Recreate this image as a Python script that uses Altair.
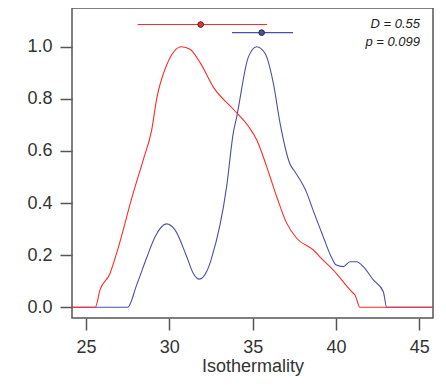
import altair as alt
import pandas as pd

# Density curves (scaled to max 1)
red_x = [24.16, 25.56, 25.84, 26.44, 26.8, 27.84, 28.44, 28.94, 29.24, 29.84, 30.74, 31.24,
         31.84, 32.64, 33.84, 34.74, 35.24, 35.84, 36.44, 37.04, 37.64, 38.64, 39.24, 39.84,
         40.94, 41.14, 41.44, 45.82]
red_y = [0.0, 0.0, 0.067, 0.13, 0.2, 0.44, 0.567, 0.68, 0.80, 0.93, 1.0, 0.99,
         0.94, 0.845, 0.76, 0.695, 0.643, 0.54, 0.425, 0.323, 0.265, 0.22, 0.18, 0.143,
         0.06, 0.047, 0.0, 0.0]

blue_x = [24.16, 27.5, 28.04, 28.64, 29.14, 29.84, 30.34, 31.04, 31.44, 31.8, 32.24, 32.54,
          33.44, 33.84, 34.04, 34.74, 35.24, 35.74, 36.24, 36.64, 37.24, 37.54, 38.24, 38.64,
          39.24, 39.74, 39.99, 40.44, 40.84, 41.24, 41.64, 42.24, 42.84, 43.04, 45.82]
blue_y = [0.0, 0.0, 0.086, 0.19, 0.27, 0.32, 0.297, 0.195, 0.13, 0.108, 0.137, 0.19,
          0.464, 0.67, 0.73, 0.96, 1.0, 0.975, 0.86, 0.708, 0.55, 0.52, 0.44, 0.37,
          0.27, 0.19, 0.163, 0.156, 0.175, 0.175, 0.156, 0.105, 0.06, 0.0, 0.0]

# Mean / range segments at top
seg_series = ["red", "blue"]
seg_lo = [28.1, 33.76]
seg_hi = [35.86, 37.42]
seg_mid = [31.88, 35.54]
seg_y = [1.085, 1.054]

# Annotation
ann_text = ["D = 0.55", "p = 0.099"]
ann_x = [45.04, 45.04]
ann_y = [1.087, 1.017]

RED = "#ff2b2b"
BLUE = "#4a50a4"

xs = alt.Scale(domain=[24.16, 45.82], nice=False, zero=False)
ys = alt.Scale(domain=[-0.041, 1.1485], nice=False, zero=False)

red_df = pd.DataFrame({"x": red_x, "y": red_y})
blue_df = pd.DataFrame({"x": blue_x, "y": blue_y})
seg_df = pd.DataFrame({"s": seg_series, "lo": seg_lo, "hi": seg_hi, "mid": seg_mid, "y": seg_y})
ann_df = pd.DataFrame({"t": ann_text, "x": ann_x, "y": ann_y})

xaxis = alt.Axis(values=[25, 30, 35, 40, 45], title="Isothermality", format="d")
yaxis = alt.Axis(values=[0, 0.2, 0.4, 0.6, 0.8, 1.0], title=None, format=".1f")

blue_line = alt.Chart(blue_df).mark_line(color=BLUE, strokeWidth=1.1, interpolate="monotone").encode(
    x=alt.X("x:Q", scale=xs, axis=xaxis),
    y=alt.Y("y:Q", scale=ys, axis=yaxis),
)
red_line = alt.Chart(red_df).mark_line(color=RED, strokeWidth=1.1, interpolate="monotone").encode(
    x=alt.X("x:Q", scale=xs),
    y=alt.Y("y:Q", scale=ys),
)

cscale = alt.Scale(domain=["red", "blue"], range=[RED, BLUE])
segs = alt.Chart(seg_df).mark_rule(strokeWidth=1.1).encode(
    x=alt.X("lo:Q", scale=xs),
    x2="hi:Q",
    y=alt.Y("y:Q", scale=ys),
    color=alt.Color("s:N", scale=cscale, legend=None),
)
pts = alt.Chart(seg_df).mark_circle(size=32, opacity=1, stroke="#2a2a3a", strokeWidth=1).encode(
    x=alt.X("mid:Q", scale=xs),
    y=alt.Y("y:Q", scale=ys),
    color=alt.Color("s:N", scale=cscale, legend=None),
)
ann = alt.Chart(ann_df).mark_text(align="right", baseline="middle", fontSize=13, fontStyle="italic",
                                  font="Liberation Sans", color="#222").encode(
    x=alt.X("x:Q", scale=xs),
    y=alt.Y("y:Q", scale=ys),
    text="t:N",
)

chart = alt.layer(blue_line, red_line, segs, pts, ann).properties(
    width=361, height=310,
    autosize=alt.AutoSizeParams(type="none"),
    padding={"left": 64, "top": 0, "right": 5, "bottom": 60},
).configure_view(
    stroke="#555555", strokeWidth=1.5
).configure_axis(
    domain=False, grid=False, tickColor="#555555", tickWidth=1.5, tickSize=12,
    labelFont="Liberation Sans", labelFontSize=18, labelColor="#333333", labelPadding=8,
    titleFont="Liberation Sans", titleFontSize=18, titleFontWeight="normal", titleColor="#333333",
    titlePadding=1,
)

chart.save("out.html", embed_options={"renderer": "svg", "actions": False})
